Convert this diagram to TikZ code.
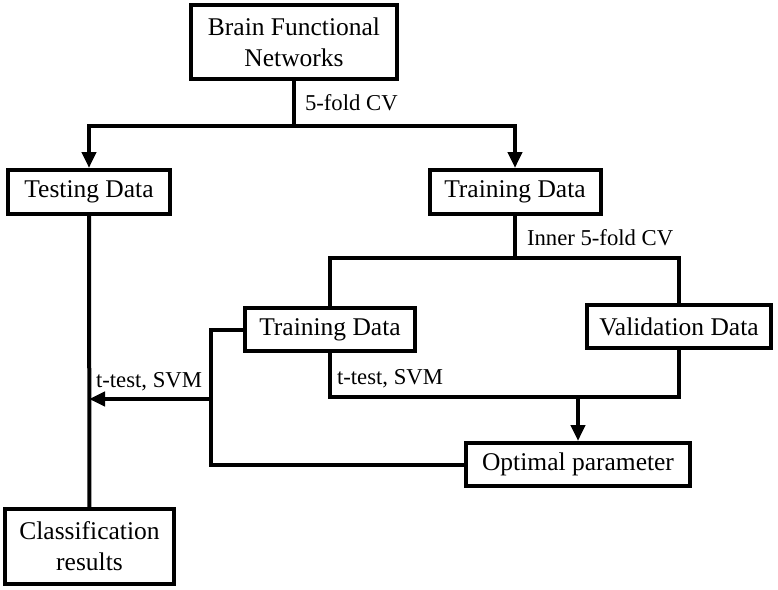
\documentclass[tikz,border=0pt]{standalone}
\usepackage{fontspec}
\setmainfont{Liberation Serif}
\usetikzlibrary{arrows.meta,positioning}

\begin{document}
\begin{tikzpicture}[x=1pt,y=-1pt,line width=4pt,
        >={Triangle[length=16pt,width=14pt]},
        box/.style={draw,rectangle,inner sep=2pt,align=center,
          font=\fontsize{25.5}{31}\selectfont},
        lbl/.style={inner sep=0pt,font=\fontsize{22.7}{27}\selectfont}]
        \useasboundingbox (0,0) rectangle (778,589);
        \node[box,minimum width=206pt,minimum height=74pt] (brain) at (294,42) {Brain Functional\\Networks};
        \node[box,minimum width=162pt,minimum height=44pt] (test) at (89,192) {Testing Data};
        \node[box,minimum width=171pt,minimum height=44pt] (train) at (515,192) {Training Data};
        \node[box,minimum width=170pt,minimum height=43pt] (trainin) at (330,329.5) {Training Data};
        \node[box,minimum width=184pt,minimum height=43pt] (valid) at (679,326.5) {Validation Data};
        \node[box,minimum width=224pt,minimum height=43pt] (optimal) at (578,464.5) {Optimal parameter};
        \node[box,minimum width=169pt,minimum height=75pt] (classif) at (89.5,546.5) {Classification\\results};

        \coordinate (outer) at (294,126);
        \coordinate (inner) at (515,258);
        \coordinate (join) at (578,397);
        \coordinate (loop) at (211,399);

        \draw (brain) -- (outer);
        \draw[->] (outer) -| (test);
        \draw[->] (outer) -| (train);
        \node[lbl,anchor=west] (cv) at (303,103) {5-fold CV};

        \draw (train) -- (inner);
        \draw (inner) -| (trainin);
        \draw (inner) -| (valid);
        \node[lbl,anchor=west] (innercv) at (525,238) {Inner 5-fold CV};

        \draw (trainin) |- (join);
        \draw (valid) |- (join);
        \draw[->] (join) -- (optimal);
        \node[lbl,anchor=west] (svmin) at (335,379) {t-test, SVM};

        \draw (optimal) -| (loop) |- (trainin);
        \draw[->] (loop) -- (test |- loop);
        \node[lbl] (svmout) at (149,382) {t-test, SVM};

        \draw (test) -- (classif);
      \end{tikzpicture}
\end{document}
